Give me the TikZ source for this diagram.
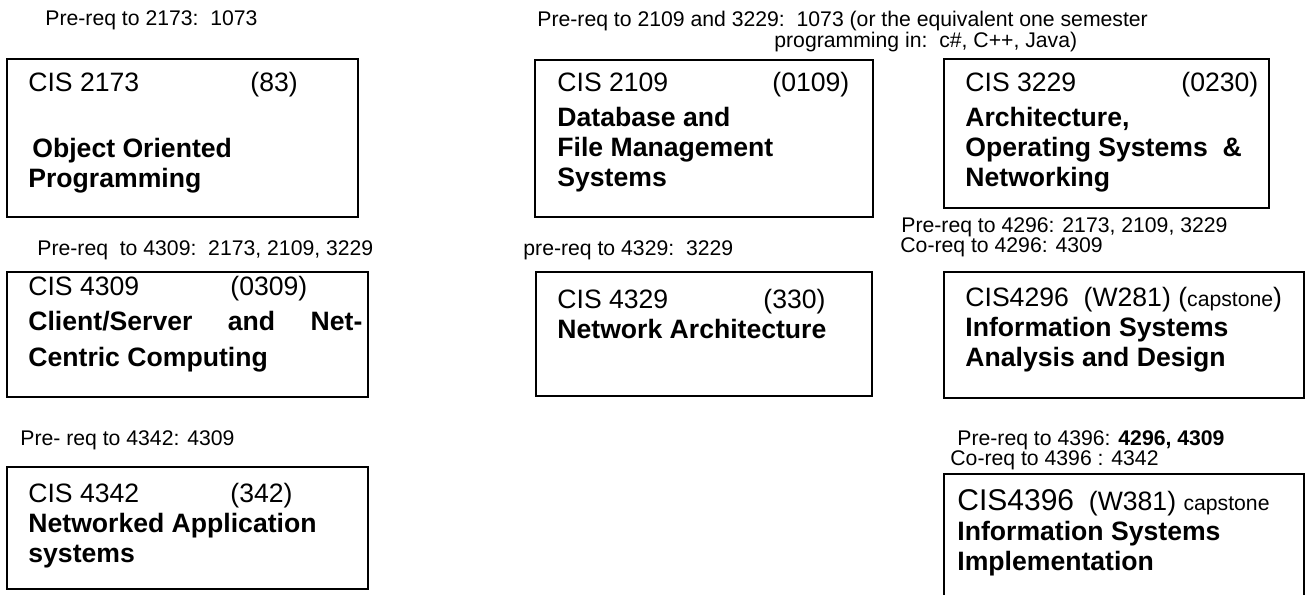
\documentclass[tikz,border=0pt]{standalone}
\usepackage{fontspec}
\setmainfont{Liberation Sans}
\usetikzlibrary{positioning}

\begin{document}
\begin{tikzpicture}[x=0.5pt,y=-0.5pt]
\tikzstyle{course}=[draw,line width=0.8pt,inner sep=0pt,outer sep=0pt,anchor=north west]
\tikzstyle{coursetext}=[inner sep=0pt,align=left,font=\fontsize{13.3}{15}\selectfont]
\tikzstyle{prereq}=[inner sep=0pt,anchor=base west,font=\fontsize{10.6}{12}\selectfont]
\tikzstyle{prereqtwo}=[inner sep=0pt,anchor=north west,align=left,font=\fontsize{10.6}{10}\selectfont]

\clip (0,0) rectangle (1308,595);

\node [course, minimum width=175.5pt, minimum height=79pt] (c2173) at (7,59) {};
\node [course, minimum width=169pt, minimum height=78.5pt] (c2109) at (535,60) {};
\node [course, minimum width=162.5pt, minimum height=74.5pt] (c3229) at (944,59) {};
\node [course, minimum width=180.5pt, minimum height=62.5pt] (c4309) at (7,272) {};
\node [course, minimum width=168pt, minimum height=62pt] (c4329) at (536,272) {};
\node [course, minimum width=180pt, minimum height=63pt] (c4296) at (944,272) {};
\node [course, minimum width=180.5pt, minimum height=61pt] (c4342) at (7,467) {};
\node [course, minimum width=180pt, minimum height=70pt] (c4396) at (944,474) {};

\node [coursetext, below right=6.5pt and 10.5pt of c2173.north west] (t2173)
  {\makebox[111pt][l]{CIS 2173}(83)\\[18pt]
   \bfseries\hspace*{2pt}Object Oriented\\ \bfseries Programming};
\node [coursetext, below right=6pt and 11pt of c2109.north west] (t2109)
  {\makebox[107.5pt][l]{CIS 2109}(0109)\\[2.5pt]
   \bfseries Database and\\ \bfseries File Management\\ \bfseries Systems};
\node [coursetext, below right=6.5pt and 10.5pt of c3229.north west] (t3229)
  {\makebox[108pt][l]{CIS 3229}(0230)\\[2.5pt]
   \bfseries Architecture,\\ \bfseries Operating Systems\ \ \&\\ \bfseries Networking};
\node [coursetext, below right=2pt and 10.5pt of c4309.north west] (t4309)
  {\makebox[101pt][l]{CIS 4309}(0309)\\[2.5pt]
   \bfseries\makebox[167pt][s]{Client/Server\hfill and\hfill Net-}\\[3pt]
   \bfseries Centric Computing};
\node [coursetext, below right=8.5pt and 10.5pt of c4329.north west] (t4329)
  {\makebox[103pt][l]{CIS 4329}(330)\\ \bfseries Network Architecture};
\node [coursetext, below right=7.5pt and 10.5pt of c4296.north west] (t4296)
  {CIS4296\ \ (W281) ({\fontsize{10.6}{15}\selectfont capstone})\\
   \bfseries Information Systems\\ \bfseries Analysis and Design};
\node [coursetext, below right=8pt and 10.5pt of c4342.north west] (t4342)
  {\makebox[101pt][l]{CIS 4342}(342)\\ \bfseries Networked Application\\ \bfseries systems};
\node [coursetext, below right=7.5pt and 6.5pt of c4396.north west] (t4396)
  {{\fontsize{15}{15}\selectfont CIS4396}\ \ (W381) {\fontsize{10.6}{15}\selectfont capstone}\\
   \bfseries Information Systems\\ \bfseries Implementation};

\node [prereq] (h2173) at (45,25.6) {Pre-req to 2173:\ \ 1073};
\node [prereqtwo, font=\fontsize{10.6}{10.5}\selectfont] (h2109) at (537,11.2)
  {Pre-req to 2109 and 3229:\ \ 1073 (or the equivalent one semester\\
   \hspace*{118.5pt}programming in:\ \ c\#, C++, Java)};
\node [prereq] (h4309) at (37,255.6) {Pre-req\ \ to 4309:\ \ 2173, 2109, 3229};
\node [prereq] (h4329) at (523,255.6) {pre-req to 4329:\ \ 3229};
\node [prereqtwo] (h4296) at (900,217.2)
  {\hspace*{0.5pt}Pre-req to 4296: 2173, 2109, 3229\\ Co-req to 4296: 4309};
\node [prereq] (h4342) at (20,445.6) {Pre- req to 4342: 4309};
\node [prereqtwo] (h4396) at (950,430.2)
  {\hspace*{3.5pt}Pre-req to 4396: \textbf{4296, 4309}\\ Co-req to 4396 : 4342};
\end{tikzpicture}
\end{document}
